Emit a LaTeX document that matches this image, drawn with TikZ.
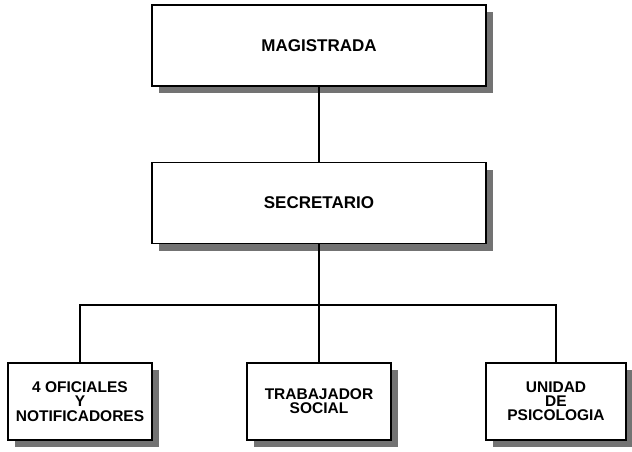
\documentclass[tikz,border=0pt]{standalone}
\usepackage{fontspec}
\setmainfont{Liberation Sans}
\usetikzlibrary{shadows}
\begin{document}
\begin{tikzpicture}[x=1pt,y=-1pt,
  box/.style={draw, line width=1.2pt, fill=white, inner sep=0pt, align=center,
    drop shadow={shadow xshift=7pt, shadow yshift=-7pt, fill=black!55, opacity=1}},
  wide/.style={box, minimum width=334pt, minimum height=81pt,
    font=\fontsize{17}{15}\selectfont\bfseries},
  small/.style={box, minimum width=144pt, minimum height=77pt,
    font=\fontsize{15.5}{14.2}\selectfont\bfseries},
  conn/.style={line width=1.1pt}]
\useasboundingbox (0,0) rectangle (632,452);
\node[wide] (mag) at (319,45.5) {MAGISTRADA};
\node[wide] (sec) at (319,203) {SECRETARIO};
\node[small] (b1) at (80,401.5) {4 OFICIALES\\Y\\NOTIFICADORES};
\node[small] (b2) at (319,401.5) {TRABAJADOR\\SOCIAL};
\node[small, minimum width=140pt] (b3) at (556,401.5) {UNIDAD\\DE\\PSICOLOGIA};
\coordinate (bar) at (0,305);
\draw[conn] (mag) -- (sec);
\draw[conn] (sec) -- (b2);
\draw[conn] (b1.north) -- (b1.north |- bar) -- (b3.north |- bar) -- (b3.north);
\end{tikzpicture}
\end{document}
